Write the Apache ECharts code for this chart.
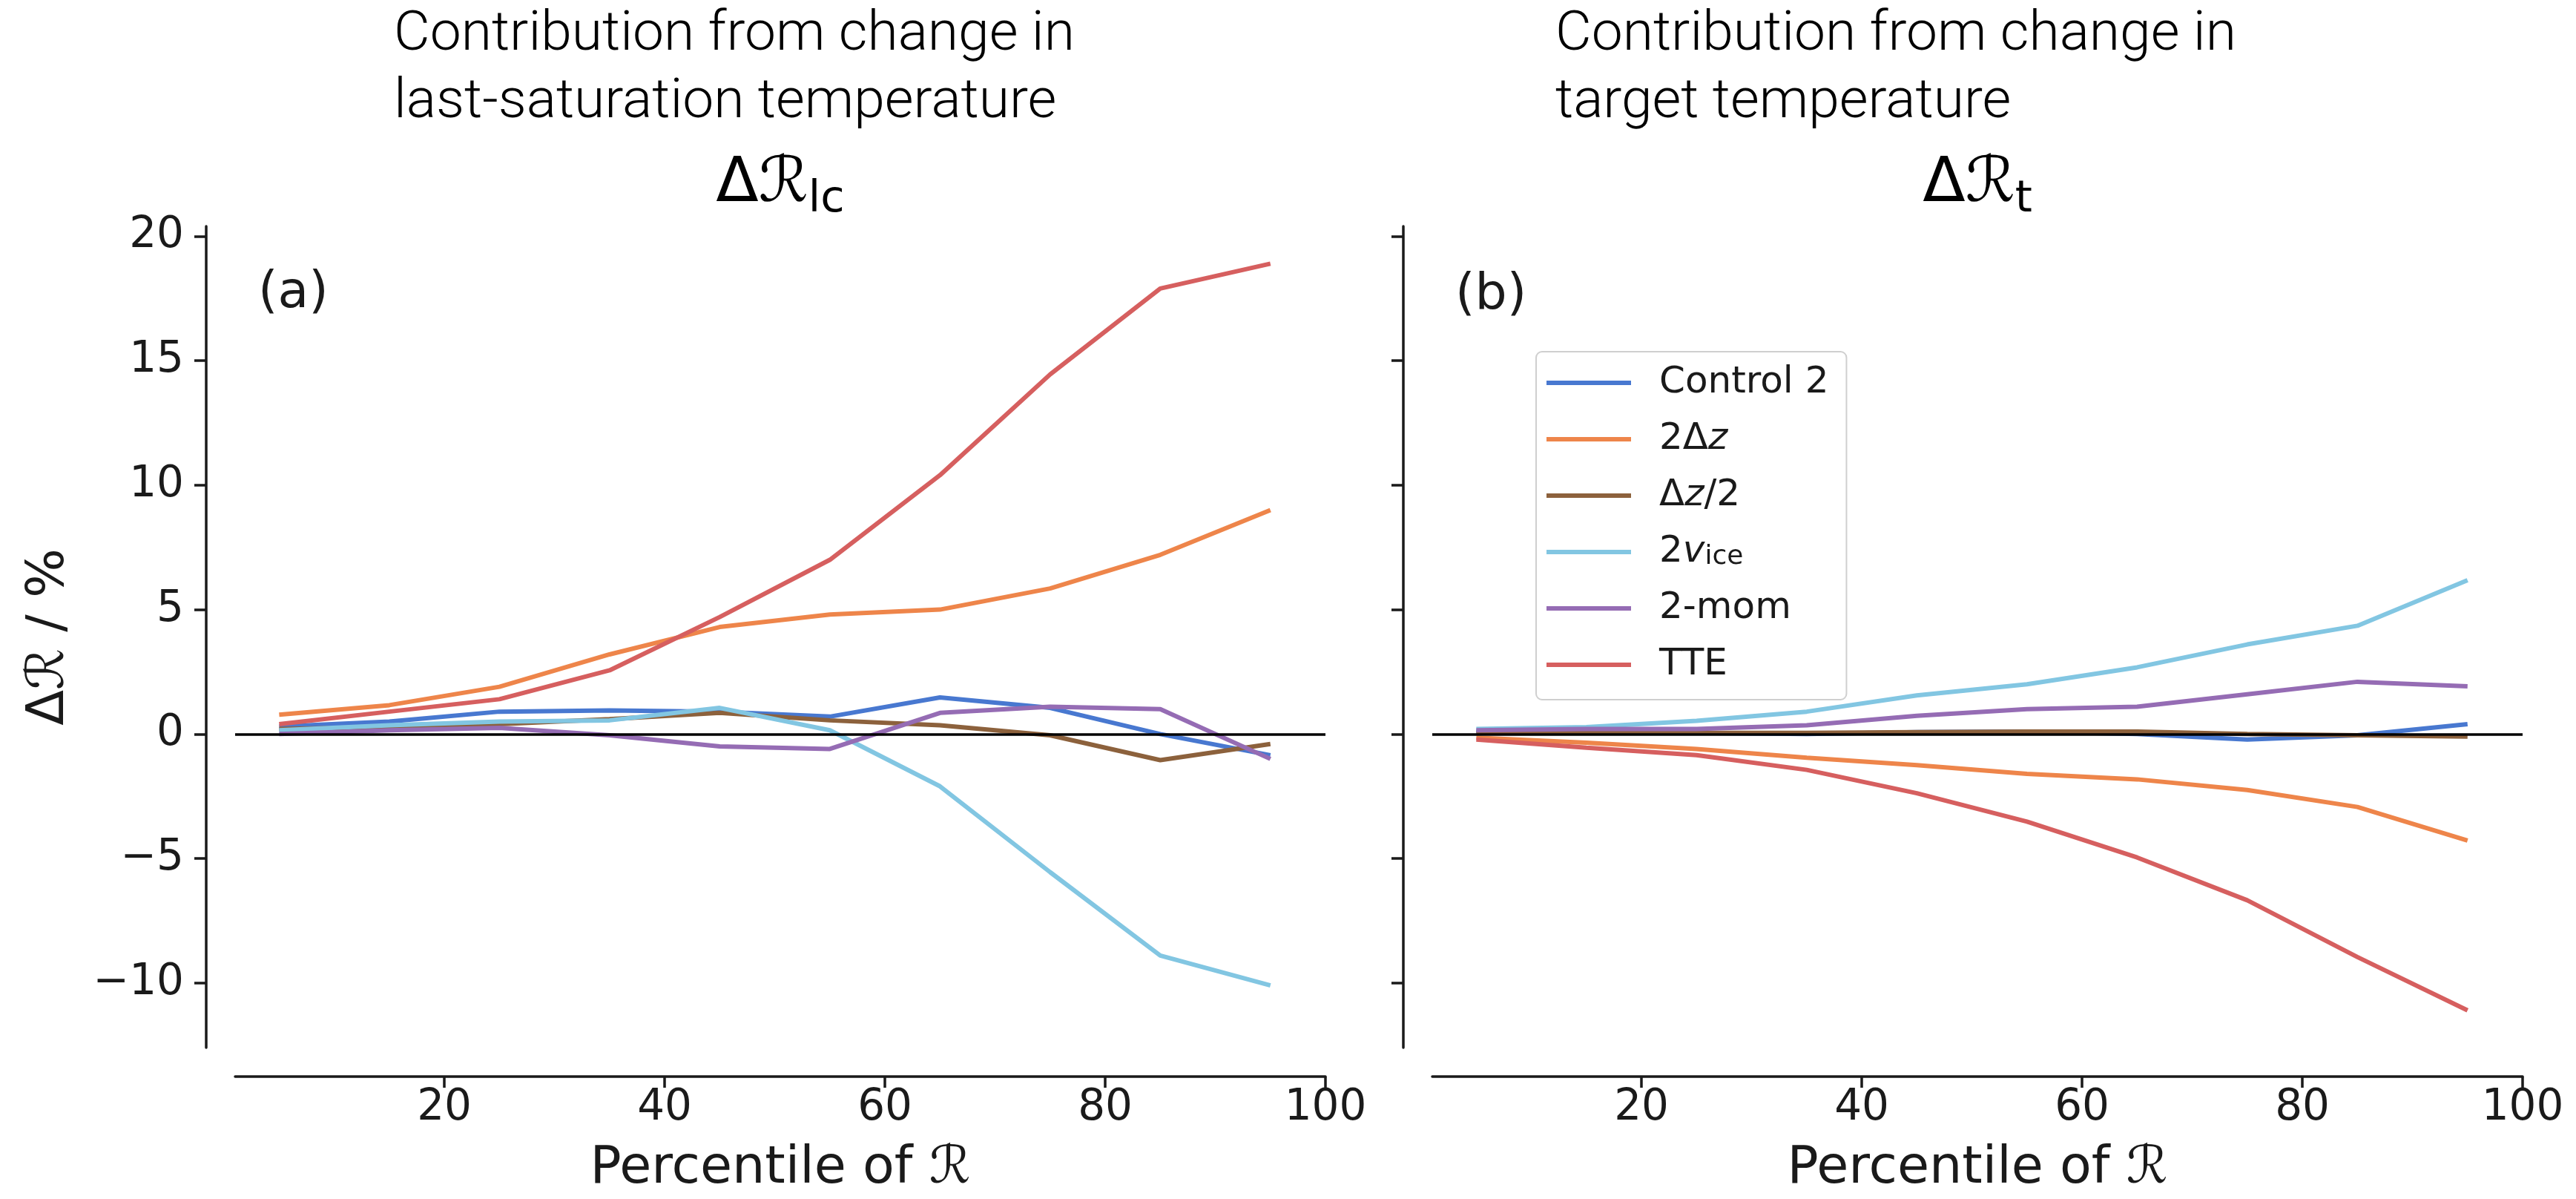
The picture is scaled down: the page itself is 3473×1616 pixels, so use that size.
<!DOCTYPE html>
<html>
<head>
<meta charset="utf-8">
<script src="https://cdn.jsdelivr.net/npm/echarts@6/dist/echarts.min.js"></script>
<style>
  html, body { margin: 0; padding: 0; background: #fff; }
  #chart { width: 3473px; height: 1616px; }
</style>
</head>
<body>
<div id="chart"></div>
<script>
// ---------------- DATA ----------------
const percentiles = [5, 15, 25, 35, 45, 55, 65, 75, 85, 95];
const seriesNames = ['Control 2', '2Δz', 'Δz/2', '2vice', '2-mom', 'TTE'];
const seriesColors = ['#4878D0', '#EE854A', '#8C613C', '#82C6E2', '#956CB4', '#D65F5F'];

// Panel (a): contribution from change in last-saturation temperature
const lcControl2 = [0.30, 0.50, 0.90, 0.95, 0.90, 0.70, 1.47, 1.05, 0.00, -0.85];
const lcTwoDz    = [0.78, 1.16, 1.90, 3.20, 4.30, 4.80, 5.00, 5.85, 7.20, 9.00];
const lcHalfDz   = [0.20, 0.28, 0.40, 0.60, 0.85, 0.55, 0.35, -0.05, -1.05, -0.40];
const lcTwoVice  = [0.15, 0.35, 0.50, 0.55, 1.05, 0.15, -2.10, -5.55, -8.90, -10.10];
const lcTwoMom   = [0.00, 0.15, 0.25, -0.05, -0.50, -0.60, 0.85, 1.10, 1.00, -1.00];
const lcTTE      = [0.40, 0.90, 1.40, 2.56, 4.70, 7.00, 10.40, 14.45, 17.90, 18.90];

// Panel (b): contribution from change in target temperature
const tControl2 = [0.10, 0.10, 0.05, 0.00, 0.08, 0.10, 0.00, -0.22, -0.05, 0.40];
const tTwoDz    = [-0.15, -0.35, -0.60, -0.95, -1.25, -1.60, -1.82, -2.25, -2.93, -4.28];
const tHalfDz   = [0.05, 0.05, 0.05, 0.05, 0.08, 0.10, 0.10, 0.00, -0.05, -0.10];
const tTwoVice  = [0.20, 0.28, 0.53, 0.90, 1.55, 2.00, 2.68, 3.60, 4.35, 6.18];
const tTwoMom   = [0.15, 0.20, 0.20, 0.35, 0.73, 1.00, 1.10, 1.60, 2.10, 1.92];
const tTTE      = [-0.22, -0.55, -0.85, -1.44, -2.38, -3.52, -4.96, -6.68, -8.96, -11.10];

const xTicks = [20, 40, 60, 80, 100];
const yTicks = [-10, -5, 0, 5, 10, 15, 20];
const xRange = [1, 100];
const yRange = [-12.6, 20.4];
const zeroLevel = [0];

const panelA = [lcControl2, lcTwoDz, lcHalfDz, lcTwoVice, lcTwoMom, lcTTE];
const panelB = [tControl2, tTwoDz, tHalfDz, tTwoVice, tTwoMom, tTTE];

// ---------------- STYLE ----------------
const INK = '#1a1a1a';
const BASE_FONT = '"DejaVu Sans", sans-serif';
const TITLE_FONT = 'Roboto, "Liberation Sans", sans-serif';

const grids = [
  { left: 317, top: 305, width: 1470, height: 1113 },
  { left: 1931, top: 305, width: 1470, height: 1113 }
];

function makeX(gi) {
  return {
    type: 'value', gridIndex: gi, min: xRange[0], max: xRange[1],
    offset: 39,
    name: 'Percentile of ℛ', nameLocation: 'middle', nameGap: 90,
    nameTextStyle: { fontFamily: BASE_FONT, fontSize: 70, color: INK },
    axisLine: { show: true, onZero: false, lineStyle: { color: INK, width: 3.5 } },
    axisTick: { show: true, length: 15, customValues: xTicks, lineStyle: { color: INK, width: 3.5 } },
    axisLabel: { show: true, customValues: xTicks, margin: 14, fontFamily: BASE_FONT, fontSize: 58, color: INK },
    splitLine: { show: false }
  };
}
function fmtY(v) { return v < 0 ? '\u2212' + Math.abs(v) : String(v); }
function makeY(gi, withLabels) {
  return {
    type: 'value', gridIndex: gi, min: yRange[0], max: yRange[1],
    offset: 39,
    name: withLabels ? 'Δℛ / %' : '', nameLocation: 'middle', nameGap: 176,
    nameTextStyle: { fontFamily: BASE_FONT, fontSize: 70, color: INK },
    axisLine: { show: true, onZero: false, lineStyle: { color: INK, width: 3.5 } },
    axisTick: { show: true, length: 16, customValues: yTicks, lineStyle: { color: INK, width: 3.5 } },
    axisLabel: { show: withLabels, customValues: yTicks, margin: 30, fontFamily: BASE_FONT, fontSize: 58, color: INK, formatter: fmtY },
    splitLine: { show: false }
  };
}

const series = [];
[panelA, panelB].forEach(function (panel, gi) {
  panel.forEach(function (vals, si) {
    series.push({
      type: 'line', name: seriesNames[si], xAxisIndex: gi, yAxisIndex: gi,
      data: percentiles.map(function (p, k) { return [p, vals[k]]; }),
      showSymbol: false, symbol: 'none', smooth: false,
      lineStyle: { color: seriesColors[si], width: 6 },
      itemStyle: { color: seriesColors[si] },
      emphasis: { disabled: true },
      z: 2
    });
  });
  series.push({
    type: 'line', name: 'zero' + gi, xAxisIndex: gi, yAxisIndex: gi, data: [],
    z: 3,
    markLine: {
      silent: true, symbol: ['none', 'none'], animation: false,
      label: { show: false },
      lineStyle: { color: '#000', width: 3.5, type: 'solid' },
      emphasis: { disabled: true },
      data: zeroLevel.map(function (v) { return { yAxis: v }; })
    }
  });
});

const legendRich = {
  n: { fontFamily: BASE_FONT, fontSize: 50, lineHeight: 50, color: INK },
  i: { fontFamily: BASE_FONT, fontStyle: 'italic', fontSize: 50, lineHeight: 50, color: INK },
  s: { fontFamily: BASE_FONT, fontSize: 36, lineHeight: 22, verticalAlign: 'bottom', color: INK }
};
const legendLabels = {
  'Control 2': '{n|Control 2}',
  '2Δz': '{n|2Δ}{i|z}',
  'Δz/2': '{n|Δ}{i|z}{n|/2}',
  '2vice': '{n|2}{i|v}{s|ice}',
  '2-mom': '{n|2-mom}',
  'TTE': '{n|TTE}'
};

const titleRich = {
  m: { fontFamily: BASE_FONT, fontSize: 84, lineHeight: 100, color: INK },
  s: { fontFamily: BASE_FONT, fontSize: 59, lineHeight: 45, verticalAlign: 'bottom', color: INK }
};

const topTitles = [
  { x: 531, lines: ['Contribution from change in', 'last-saturation temperature'] },
  { x: 2097, lines: ['Contribution from change in', 'target temperature'] }
];

const graphics = [];
topTitles.forEach(function (t) {
  t.lines.forEach(function (line, li) {
    graphics.push({
      type: 'text', silent: true,
      style: { text: line, x: t.x, y: 48 + li * 91.5, fontFamily: TITLE_FONT, fontWeight: 300, fontSize: 75,
               fill: '#000', align: 'left', verticalAlign: 'middle' }
    });
  });
});
graphics.push({ type: 'text', silent: true,
  style: { text: '{m|Δℛ}{s|lc}', rich: titleRich, x: 1052, y: 249, align: 'center', verticalAlign: 'middle' } });
graphics.push({ type: 'text', silent: true,
  style: { text: '{m|Δℛ}{s|t}', rich: titleRich, x: 2666, y: 249, align: 'center', verticalAlign: 'middle' } });
graphics.push({ type: 'text', silent: true,
  style: { text: '(a)', x: 348, y: 396, fontFamily: BASE_FONT, fontSize: 68, fill: INK, align: 'left', verticalAlign: 'middle' } });
graphics.push({ type: 'text', silent: true,
  style: { text: '(b)', x: 1962, y: 399, fontFamily: BASE_FONT, fontSize: 68, fill: INK, align: 'left', verticalAlign: 'middle' } });

const option = {
  animation: false,
  backgroundColor: '#fff',
  grid: grids,
  xAxis: [makeX(0), makeX(1)],
  yAxis: [makeY(0, true), makeY(1, false)],
  legend: {
    data: seriesNames,
    orient: 'vertical',
    left: 2071, top: 474,
    icon: 'rect', itemWidth: 114, itemHeight: 6, itemGap: 26,
    padding: [17, 24, 22, 14],
    backgroundColor: 'rgba(255,255,255,0.85)',
    borderColor: '#cfcfcf', borderWidth: 2, borderRadius: 8,
    selectedMode: false,
    formatter: function (name) { return legendLabels[name] || name; },
    textStyle: { fontFamily: BASE_FONT, fontSize: 50, color: INK, padding: [0, 0, 0, 33], rich: legendRich }
  },
  graphic: graphics,
  series: series
};

const chart = echarts.init(document.getElementById('chart'), null, { renderer: 'canvas' });
chart.setOption(option);
</script>
</body>
</html>
